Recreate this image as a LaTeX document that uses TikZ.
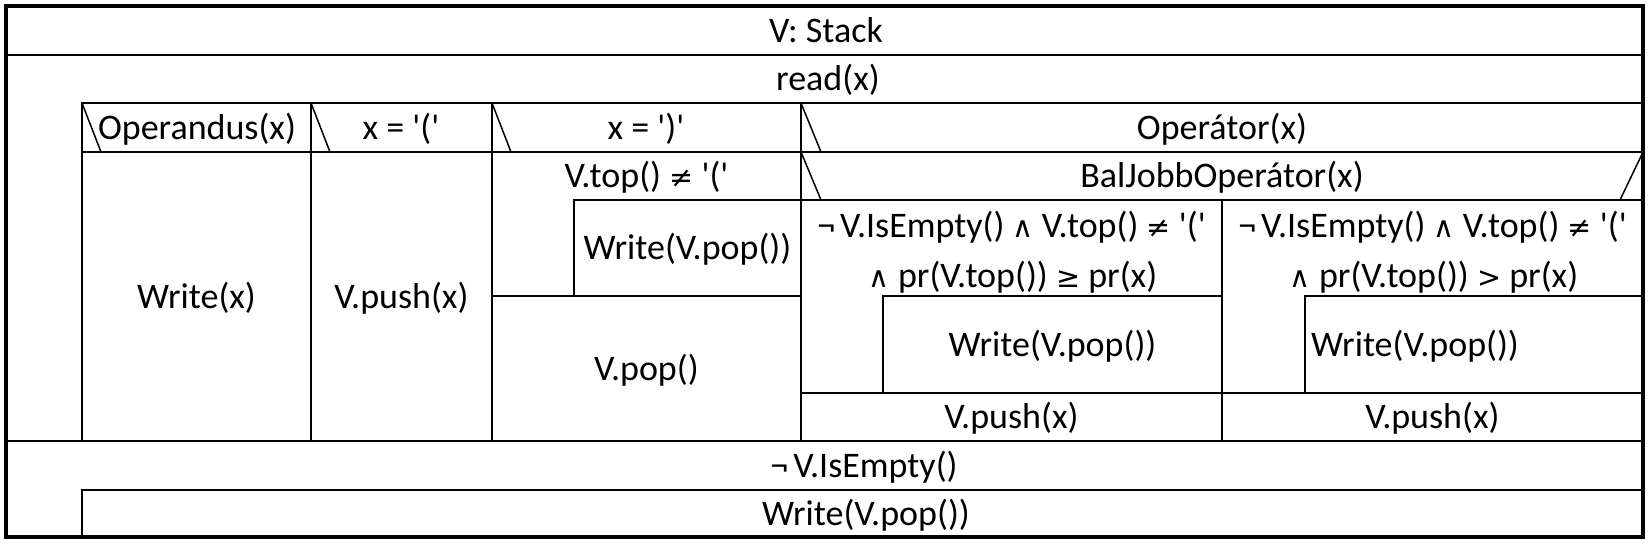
\documentclass[tikz,border=0pt]{standalone}
\usepackage{fontspec}
\newfontfamily\cfont[Ligatures=TeXOff]{Carlito}
\newfontfamily\symfont[Scale=0.8]{DejaVu Sans}
\tikzset{
  lbl/.style={font=\cfont\fontsize{36}{42}\selectfont, inner sep=0pt, anchor=base},
  ln/.style={line width=1.8pt, line cap=rect},
  sl/.style={line width=1.5pt},
  frame/.style={line width=3.5pt}
}
\newcommand{\myneg}{¬\kern5pt}
\newcommand{\myand}{{\symfont ∧}}
\newcommand{\myne}{{\symfont ≠}}
\newcommand{\myge}{{\symfont ≥}}
\newcommand{\mygt}{{\symfont >}}
\begin{document}
\begin{tikzpicture}[x=1pt,y=-1pt]
\useasboundingbox (0,0) rectangle (1651,544);
% outer frame
\draw[frame] (6,6) rectangle (1643,537);
% horizontal rows
\draw[ln] (6,55) -- (1643,55);
\draw[ln] (82,103) -- (1643,103);
\draw[ln] (82,152) -- (1643,152);
\draw[ln] (6,441) -- (1643,441);
\draw[ln] (82,490) -- (1643,490);
% loop body left edges
\draw[ln] (82,103) -- (82,441);
\draw[ln] (82,490) -- (82,537);
% case columns
\draw[ln] (311,103) -- (311,441);
\draw[ln] (492,103) -- (492,441);
\draw[ln] (801,103) -- (801,441);
% case slashes
\draw[sl] (82,103) -- (101,152);
\draw[sl] (311,103) -- (330,152);
\draw[sl] (492,103) -- (511,152);
\draw[sl] (801,103) -- (821,152);
% ')' column: inner loop
\draw[ln] (574,200) -- (1643,200);
\draw[ln] (574,200) -- (574,296);
\draw[ln] (492,296) -- (801,296);
% BalJobbOperator selection
\draw[sl] (801,152) -- (821,200);
\draw[sl] (1643,152) -- (1620,200);
\draw[ln] (1222,200) -- (1222,441);
\draw[ln] (801,393) -- (1643,393);
% left branch inner loop
\draw[ln] (883,296) -- (1222,296);
\draw[ln] (883,296) -- (883,393);
% right branch inner loop
\draw[ln] (1305,296) -- (1643,296);
\draw[ln] (1305,296) -- (1305,393);
% texts
\node[lbl] (vs) at (826,42) {V: Stack};
\node[lbl] (rd) at (828,90.5) {read(x)};
\node[lbl] (c1) at (197,139) {Operandus(x)};
\node[lbl] (c2) at (401,139) {x = '('};
\node[lbl] (c3) at (646,139) {x = ')'};
\node[lbl] (c4) at (1222,139) {Operátor(x)};
\node[lbl] (bj) at (1222,187.5) {BalJobbOperátor(x)};
\node[lbl] (vt) at (646.5,187.5) {V.top() \myne{} '('};
\node[lbl] (wx) at (196.5,308) {Write(x)};
\node[lbl] (px) at (401.5,308) {V.push(x)};
\node[lbl] (w1) at (687.5,259.5) {Write(V.pop())};
\node[lbl] (vp) at (646.5,380) {V.pop()};
\node[lbl] (l1a) at (1011.5,237) {\myneg V.IsEmpty() \myand{} V.top() \myne{} '('};
\node[lbl] (l1b) at (1013,287) {\myand{} pr(V.top()) \myge{} pr(x)};
\node[lbl] (w2) at (1052.5,356) {Write(V.pop())};
\node[lbl] (p2) at (1011.5,428) {V.push(x)};
\node[lbl] (r1a) at (1432.5,237) {\myneg V.IsEmpty() \myand{} V.top() \myne{} '('};
\node[lbl] (r1b) at (1434,287) {\myand{} pr(V.top()) \mygt{} pr(x)};
\node[lbl, anchor=base west] (w3) at (1311,356) {Write(V.pop())};
\node[lbl] (p3) at (1432.5,428) {V.push(x)};
\node[lbl] (ne) at (864,477) {\myneg V.IsEmpty()};
\node[lbl] (w4) at (866,525) {Write(V.pop())};
\end{tikzpicture}
\end{document}
